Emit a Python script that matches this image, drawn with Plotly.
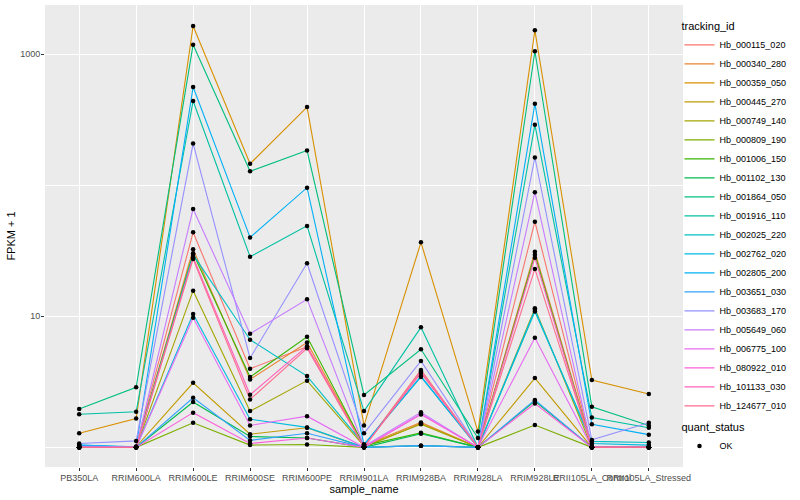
import plotly.graph_objects as go

samples = ["PB350LA", "RRIM600LA", "RRIM600LE", "RRIM600SE", "RRIM600PE", "RRIM901LA",
           "RRIM928BA", "RRIM928LA", "RRIM928LE", "RRII105LA_Control", "RRII105LA_Stressed"]

tracking_ids = ["Hb_000115_020", "Hb_000340_280", "Hb_000359_050", "Hb_000445_270",
                "Hb_000749_140", "Hb_000809_190", "Hb_001006_150", "Hb_001102_130",
                "Hb_001864_050", "Hb_001916_110", "Hb_002025_220", "Hb_002762_020",
                "Hb_002805_200", "Hb_003651_030", "Hb_003683_170", "Hb_005649_060",
                "Hb_006775_100", "Hb_080922_010", "Hb_101133_030", "Hb_124677_010"]

colors = ["#F8766D", "#EA8331", "#D89000", "#C09B00", "#A3A500", "#7CAE00", "#39B600",
          "#00BB4E", "#00BF7D", "#00C1A3", "#00BFC4", "#00BAE0", "#00B0F6", "#35A2FF",
          "#9590FF", "#C77CFF", "#E76BF3", "#FA62DB", "#FF62BC", "#FF6C91"]

# FPKM + 1 values, one list per tracking_id, in sample order
hb_000115_020 = [1.00, 1.01, 43.8, 3.98, 5.86, 1.02, 3.90, 1.00, 52.7, 1.00, 1.00]
hb_000340_280 = [1.00, 1.00, 32.5, 3.30, 6.30, 1.03, 1.55, 1.00, 31.1, 1.02, 1.00]
hb_000359_050 = [1.28, 1.66, 1644, 146, 395, 1.47, 36.7, 1.32, 1524, 3.27, 2.55]
hb_000445_270 = [1.00, 1.01, 3.11, 1.26, 1.41, 1.00, 1.52, 1.00, 3.38, 1.00, 1.00]
hb_000749_140 = [1.00, 1.00, 15.7, 1.89, 3.23, 1.02, 1.50, 1.00, 11.5, 1.00, 1.00]
hb_000809_190 = [1.00, 1.00, 1.54, 1.04, 1.05, 1.00, 1.03, 1.00, 1.48, 1.00, 1.00]
hb_001006_150 = [1.00, 1.01, 30.3, 3.44, 6.98, 1.03, 1.29, 1.00, 29.5, 1.00, 1.00]
hb_001102_130 = [1.00, 1.00, 2.22, 1.21, 1.18, 1.00, 1.27, 1.00, 2.26, 1.00, 1.00]
hb_001864_050 = [1.96, 2.87, 1183, 128, 184, 2.51, 5.60, 1.18, 1054, 2.04, 1.47]
hb_001916_110 = [1.79, 1.87, 440, 28.5, 49.0, 1.89, 8.24, 1.00, 290, 1.69, 1.41]
hb_002025_220 = [1.00, 1.00, 29.6, 6.63, 3.50, 1.05, 3.45, 1.00, 10.9, 1.11, 1.09]
hb_002762_020 = [1.04, 1.00, 10.4, 1.64, 1.42, 1.00, 1.03, 1.00, 11.2, 1.07, 1.04]
hb_002805_200 = [1.04, 1.01, 562, 40.0, 95.9, 1.05, 3.50, 1.00, 420, 1.50, 1.25]
hb_003651_030 = [1.03, 1.00, 2.39, 1.13, 1.28, 1.00, 1.03, 1.00, 2.30, 1.00, 1.00]
hb_003683_170 = [1.07, 1.12, 208, 4.80, 25.4, 1.28, 4.56, 1.00, 163, 1.14, 1.54]
hb_005649_060 = [1.00, 1.00, 66.0, 7.37, 13.5, 1.02, 1.85, 1.00, 88.5, 1.00, 1.00]
hb_006775_100 = [1.00, 1.00, 9.76, 1.47, 1.73, 1.00, 1.80, 1.00, 6.87, 1.00, 1.00]
hb_080922_010 = [1.00, 1.00, 1.84, 1.07, 1.18, 1.00, 1.78, 1.00, 2.16, 1.00, 1.00]
hb_101133_030 = [1.00, 1.00, 28.2, 2.52, 5.90, 1.00, 3.80, 1.00, 28.0, 1.00, 1.00]
hb_124677_010 = [1.00, 1.00, 27.4, 2.32, 5.70, 1.00, 3.70, 1.00, 23.0, 1.00, 1.00]

series = [hb_000115_020, hb_000340_280, hb_000359_050, hb_000445_270, hb_000749_140,
          hb_000809_190, hb_001006_150, hb_001102_130, hb_001864_050, hb_001916_110,
          hb_002025_220, hb_002762_020, hb_002805_200, hb_003651_030, hb_003683_170,
          hb_005649_060, hb_006775_100, hb_080922_010, hb_101133_030, hb_124677_010]

y_ticks = [10, 1000]
y_minor = [1, 100]

FONT = "Liberation Sans, Arial, Helvetica, sans-serif"

fig = go.Figure()
for tid, col, vals in zip(tracking_ids, colors, series):
    fig.add_trace(go.Scatter(x=samples, y=vals, mode="lines", name=tid,
                             line=dict(color=col, width=1.1), legend="legend",
                             hoverinfo="skip"))

all_x = [s for _ in series for s in samples]
all_y = [v for vals in series for v in vals]
fig.add_trace(go.Scatter(x=all_x, y=all_y, mode="markers", name="OK",
                         marker=dict(color="black", size=4.5, symbol="circle"),
                         legend="legend2", hoverinfo="skip"))

fig.update_layout(
    width=800, height=500,
    margin=dict(l=45, r=117, t=5, b=33),
    paper_bgcolor="white", plot_bgcolor="#EBEBEB",
    font=dict(family=FONT, size=9, color="#4D4D4D"),
    showlegend=True,
    legend=dict(
        title=dict(text="tracking_id", font=dict(size=11, color="black")),
        font=dict(size=9, color="black"),
        x=0.9945, xanchor="left", y=0.976, yanchor="top",
        tracegroupgap=0, itemwidth=30, bgcolor="rgba(255,255,255,0)",
    ),
    legend2=dict(
        title=dict(text="quant_status", font=dict(size=11, color="black")),
        font=dict(size=9, color="black"),
        x=0.9945, xanchor="left", y=0.108, yanchor="top",
        itemwidth=30, bgcolor="rgba(255,255,255,0)",
    ),
    xaxis=dict(
        type="category", categoryorder="array", categoryarray=samples,
        range=[-0.6, len(samples) - 0.4],
        showgrid=True, gridcolor="white", gridwidth=1.1,
        ticks="outside", ticklen=3, tickcolor="#333333", tickwidth=1,
        tickangle=0, tickfont=dict(size=9, color="#4D4D4D"), ticklabelstandoff=-1,
        showline=False, zeroline=False, automargin=False,
        title=dict(text="sample_name", font=dict(size=11, color="black"), standoff=0),
    ),
    yaxis=dict(
        type="log", range=[-0.150, 3.376],
        tickvals=y_ticks, ticktext=[str(v) for v in y_ticks],
        showgrid=True, gridcolor="white", gridwidth=1.1,
        minor=dict(tickvals=y_minor, showgrid=True, gridcolor="white", gridwidth=0.55, ticks=""),
        ticks="outside", ticklen=3, tickcolor="#333333", tickwidth=1,
        tickfont=dict(size=9, color="#4D4D4D"), ticklabelstandoff=-1,
        showline=False, zeroline=False, automargin=False,
        title=dict(text="FPKM + 1", font=dict(size=11, color="black"), standoff=2),
    ),
)

fig.write_html("out.html", config={"displayModeBar": False},
               post_script="document.body.style.margin='0px';document.body.style.padding='0px';")
